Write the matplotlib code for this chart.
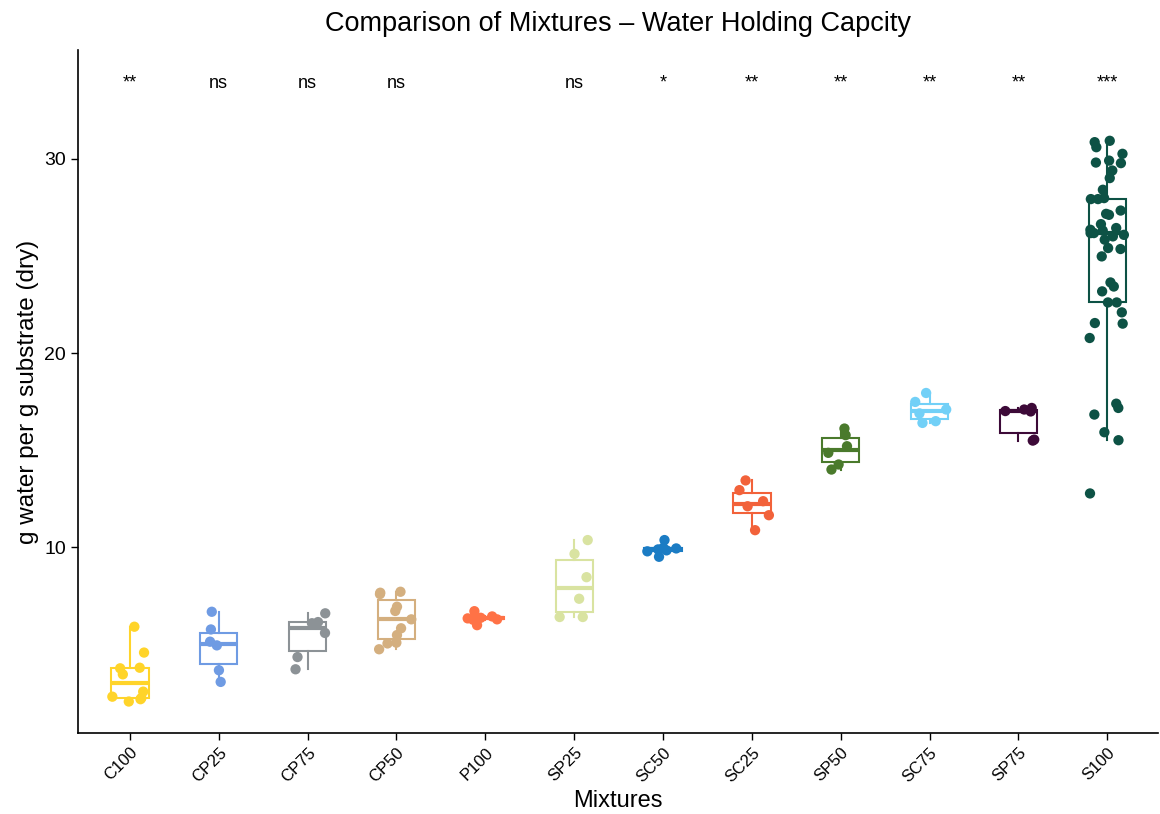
import numpy as np
import matplotlib
matplotlib.use("Agg")
import matplotlib.pyplot as plt

plt.rcParams['font.family'] = ['Liberation Sans', 'DejaVu Sans']

# groups in plotting order
mixtures = ['C100', 'CP25', 'CP75', 'CP50', 'P100', 'SP25',
            'SC50', 'SC25', 'SP50', 'SC75', 'SP75', 'S100']

# g water per g substrate
c100 = [5.92, 4.59, 3.81, 3.78, 3.47, 2.58, 2.32, 2.25, 2.19, 2.07]
cp25 = [6.69, 5.78, 5.15, 4.96, 3.68, 3.08]
cp75 = [6.61, 6.16, 6.10, 5.60, 4.36, 3.73]
cp50 = [7.72, 7.67, 7.60, 6.95, 6.73, 6.30, 5.84, 5.49, 5.10, 5.06, 4.76]
p100 = [6.72, 6.45, 6.42, 6.38, 6.35, 6.30, 6.28, 6.00]
sp25 = [10.38, 9.67, 8.47, 7.36, 6.42, 6.42]
sc50 = [10.38, 9.98, 9.95, 9.90, 9.85, 9.80, 9.52]
sc25 = [13.45, 12.95, 12.38, 12.12, 11.66, 10.89]
sp50 = [16.12, 15.78, 15.21, 14.87, 14.27, 14.01]
sc75 = [17.95, 17.49, 17.10, 16.90, 16.50, 16.41]
sp75 = [17.18, 17.10, 17.02, 17.00, 15.55, 15.50]
s100 = [30.93, 30.86, 30.60, 30.26, 29.91, 29.81, 29.78, 29.40, 29.01, 28.41,
        27.98, 27.93, 27.93, 27.34, 27.17, 27.12, 26.64, 26.44, 26.35, 26.31,
        26.18, 26.18, 26.09, 26.01, 25.84, 25.41, 25.36, 24.98, 23.64, 23.43,
        23.18, 22.61, 22.61, 22.10, 21.55, 21.52, 20.78, 17.40, 17.18, 16.84,
        15.93, 15.52, 12.78]

signif = ['**', 'ns', 'ns', 'ns', '', 'ns', '*', '**', '**', '**', '**', '***']
signif_y = 33.9

colors = ['#FFD42A', '#6F9BE3', '#8C9296', '#D4AF7F', '#FF7246', '#D9E3A1',
          '#1B7CC4', '#F2623A', '#4A7A2C', '#72D0F7', '#3D0A38', '#0D5245']

data = [c100, cp25, cp75, cp50, p100, sp25, sc50, sc25, sp50, sc75, sp75, s100]
pos = np.arange(len(mixtures))

fig = plt.figure(figsize=(11.6, 8.14), dpi=100)
ax = fig.add_axes([0.0672, 0.0995, 0.931, 0.839])

for i, vals in enumerate(data):
    col = colors[i]
    ax.boxplot([vals], positions=[pos[i]], widths=0.42, whis=1.5,
               showfliers=False, showcaps=False, patch_artist=True,
               boxprops=dict(facecolor='none', edgecolor=col, linewidth=1.5),
               whiskerprops=dict(color=col, linewidth=1.5),
               medianprops=dict(color=col, linewidth=3.0),
               zorder=2)

# jittered points (horizontal jitter only, like geom_jitter)
rng = np.random.default_rng(7)
for i, vals in enumerate(data):
    jx = pos[i] + rng.uniform(-0.2, 0.2, len(vals))
    ax.scatter(jx, vals, s=55, color=colors[i], edgecolors='none', zorder=3)

for i, lab in enumerate(signif):
    ax.text(pos[i], signif_y, lab, ha='center', va='center', fontsize=13)

ax.set_xlim(-0.585, 11.57)
ax.set_ylim(0.45, 35.6)
ax.set_yticks([10, 20, 30])
ax.set_xticks(pos)
ax.set_xticklabels(mixtures, rotation=45, ha='right', rotation_mode='anchor',
                   fontsize=12)
ax.tick_params(axis='y', labelsize=14, length=5, width=1)
ax.tick_params(axis='x', length=5, width=1)
for s in ['top', 'right']:
    ax.spines[s].set_visible(False)
for s in ['left', 'bottom']:
    ax.spines[s].set_linewidth(1.2)

ax.set_xlabel('Mixtures', fontsize=17)
ax.set_ylabel('g water per g substrate (dry)', fontsize=17.5)
ax.set_title('Comparison of Mixtures \u2013 Water Holding Capcity', fontsize=19.5, pad=14)

fig.savefig('out.png', dpi=100)
